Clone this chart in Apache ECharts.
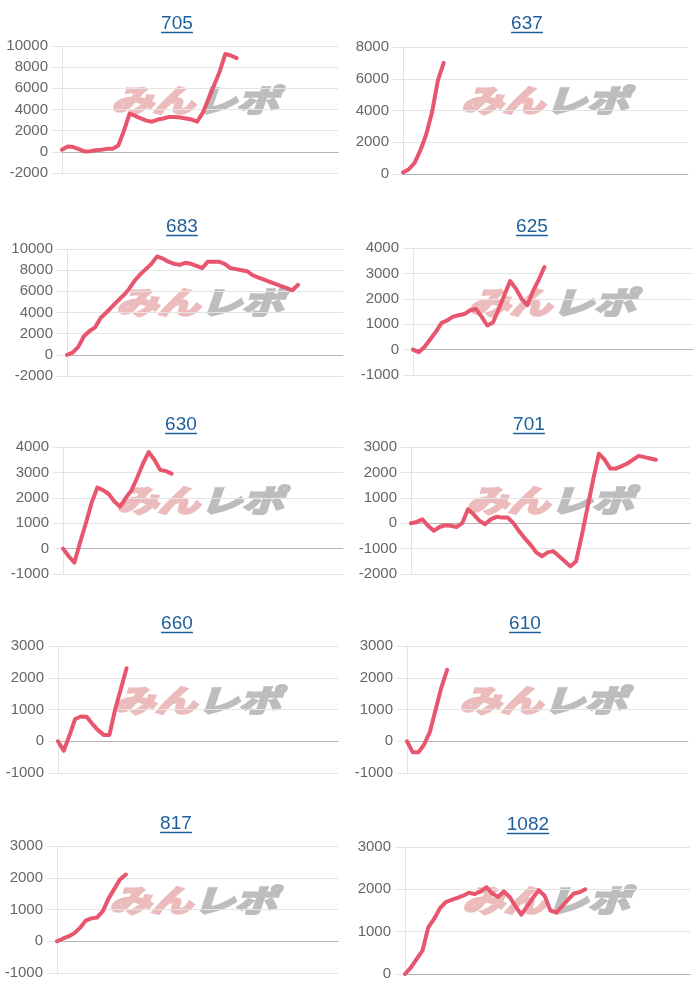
<!DOCTYPE html>
<html>
<head>
<meta charset="utf-8">
<script src="https://cdn.jsdelivr.net/npm/echarts@6/dist/echarts.min.js"></script>
<style>
html,body{margin:0;padding:0;background:#fff;}
#c{width:700px;height:1000px;}
</style>
</head>
<body>
<div id="c"></div>
<script>
// ---- data ----
var titles = ['705','637','683','625','630','701','660','610','817','1082'];
var xLabels = []; for (var k = 1; k <= 50; k++) xLabels.push(String(k));

var s705  = [200,500,450,250,30,60,150,200,280,300,600,2000,3600,3400,3150,2950,2850,3050,3150,3300,3300,3250,3150,3050,2850,3700,5000,6300,7600,9250,9100,8850];
var s637  = [100,300,700,1500,2500,3900,5900,7000];
var s683  = [0,200,750,1750,2250,2600,3500,4000,4550,5100,5600,6200,7000,7600,8100,8600,9300,9100,8800,8600,8500,8700,8600,8400,8200,8800,8800,8800,8600,8200,8100,8000,7900,7500,7300,7100,6900,6700,6500,6300,6100,6600];
var s625  = [0,-100,100,400,700,1050,1150,1300,1350,1400,1550,1600,1300,950,1070,1600,2150,2700,2400,2000,1750,2300,2750,3250];
var s630  = [0,-300,-550,250,1000,1800,2400,2300,2150,1850,1650,2000,2300,2800,3350,3800,3500,3100,3050,2950];
var s701  = [0,50,150,-100,-300,-150,-80,-100,-150,0,550,350,100,-40,150,250,220,220,0,-320,-600,-850,-1150,-1300,-1150,-1100,-1300,-1500,-1700,-1500,-480,620,1720,2740,2500,2150,2150,2250,2350,2500,2650,2600,2550,2500];
var s660  = [0,-300,180,700,780,770,550,350,200,200,1000,1650,2300];
var s610  = [0,-350,-350,-100,300,1000,1700,2250];
var s817  = [0,80,150,250,420,650,720,750,950,1350,1650,1950,2100];
var s1082 = [0,150,350,550,1100,1300,1550,1700,1750,1800,1850,1920,1890,1950,2050,1900,1820,1950,1820,1600,1400,1600,1800,1980,1850,1500,1450,1600,1750,1900,1930,2000];
var seriesData = [s705,s637,s683,s625,s630,s701,s660,s610,s817,s1082];

var yMin = [-2000,0,-2000,-1000,-1000,-2000,-1000,-1000,-1000,0];
var yMax = [10000,8000,10000,4000,4000,3000,3000,3000,3000,3000];
var yStep = [2000,2000,2000,1000,1000,1000,1000,1000,1000,1000];

// ---- layout ----
var gridBox = [
  [62,46,276],[403,47,285],
  [67,249,276],[413,248,280],
  [63,447,280],[411,447,279],
  [58,646,280],[407,646,281],
  [57,846,281],[405,847,285]
];
var plotH = 127;
var titlePos = [[177,23],[527,23],[182,226],[532,226],[181,424],[529,424],[177,623],[525,623],[176,823],[528,824]];
var markPos = [[195,103],[545,103],[200,305],[552,305],[200,503],[550,503],[197,703],[543,703],[193,903],[546,903]];

var FONT = '"Liberation Sans", Arial, sans-serif';
var LINK = '#1d5e9c';
var LINE = '#e8566e';
var GRIDC = '#e4e4e4';
var MARK_PINK = '#ecbcbd';
var MARK_GRAY = '#bdbdbd';

var grids = [], xAxes = [], yAxes = [], series = [], graphics = [];
for (var i = 0; i < 10; i++) {
  var g = gridBox[i];
  grids.push({left: g[0], top: g[1], width: g[2], height: plotH, containLabel: false});
  xAxes.push({
    type: 'category', gridIndex: i, data: xLabels, boundaryGap: false,
    axisLine: {show: true, onZero: true, lineStyle: {color: '#b3b3b3', width: 1}},
    axisTick: {show: false}, axisLabel: {show: false}, splitLine: {show: false}
  });
  yAxes.push({
    type: 'value', gridIndex: i, min: yMin[i], max: yMax[i], interval: yStep[i],
    axisLine: {show: true, lineStyle: {color: GRIDC}},
    axisTick: {show: true, length: 10, lineStyle: {color: GRIDC}},
    axisLabel: {color: '#666', fontSize: 15, margin: 14, fontFamily: FONT,
      formatter: function (v) { return String(v); }},
    splitLine: {show: true, lineStyle: {color: GRIDC, width: 1}}
  });
  series.push({
    type: 'line', xAxisIndex: i, yAxisIndex: i, data: seriesData[i],
    showSymbol: false, symbol: 'none', smooth: false, z: 5,
    lineStyle: {color: LINE, width: 4, cap: 'round', join: 'round'},
    silent: true, animation: false
  });
  // title + underline
  var tp = titlePos[i];
  var tw = titles[i].length * 10.6;
  graphics.push({
    type: 'text', left: tp[0] - tw / 2, top: tp[1] - 9, z: 10,
    style: {text: titles[i], fill: LINK, font: '19px ' + FONT}
  });
  graphics.push({
    type: 'line', z: 10,
    shape: {x1: tp[0] - tw / 2, y1: tp[1] + 9.5, x2: tp[0] + tw / 2, y2: tp[1] + 9.5},
    style: {stroke: LINK, lineWidth: 1.5}
  });
  // watermark
  var mp = markPos[i];
  graphics.push({
    type: 'group', x: mp[0] - 84, y: mp[1] - 18, z: 1,
    children: [
      {type: 'text', x: 0, y: 0, scaleX: 1.35, style: {text: 'みん', fill: MARK_PINK, stroke: MARK_PINK, lineWidth: 2.5, font: 'italic bold 31px "Noto Sans CJK JP"'}},
      {type: 'text', x: 84, y: 0, scaleX: 1.35, style: {text: 'レポ', fill: MARK_GRAY, stroke: MARK_GRAY, lineWidth: 2.5, font: 'italic bold 31px "Noto Sans CJK JP"'}}
    ]
  });
}

var chart = echarts.init(document.getElementById('c'), null, {renderer: 'canvas'});
chart.setOption({
  animation: false,
  backgroundColor: '#fff',
  grid: grids, xAxis: xAxes, yAxis: yAxes, series: series,
  graphic: graphics
});
</script>
</body>
</html>
